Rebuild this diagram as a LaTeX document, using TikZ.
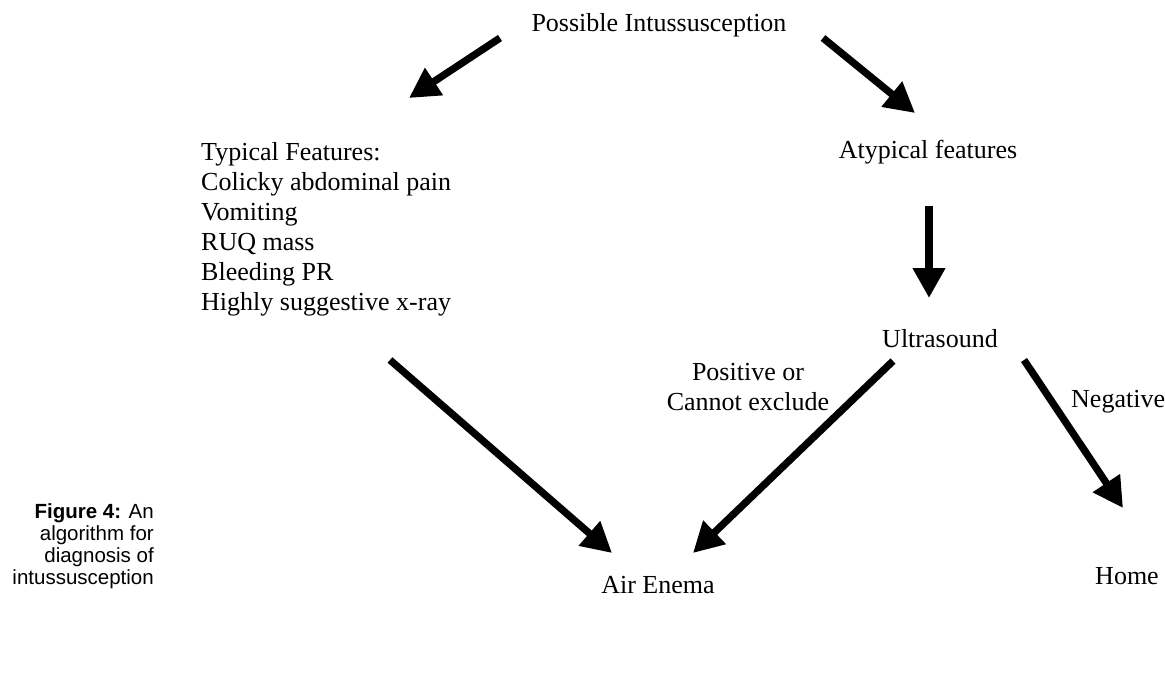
\documentclass[tikz,border=0pt]{standalone}
\usepackage{fontspec}
\setmainfont{Liberation Serif}
\newfontfamily\capsans{Liberation Sans}
\usetikzlibrary{arrows.meta}

\begin{document}
\begin{tikzpicture}[x=1pt, y=-1pt,
    steptext/.style={inner sep=0pt, font=\fontsize{26}{30}\selectfont},
    flowarrow/.style={line width=7.3pt, -{Triangle[length=30pt, width=31pt]}}]
  \useasboundingbox (0,0) rectangle (1165,690);

  % texts
  \node[steptext, anchor=base] (possible) at (659,32) {Possible Intussusception};
  \node[steptext, anchor=north west, align=left] (typical) at (201,142) {
    Typical Features:\\
    Colicky abdominal pain\\
    Vomiting\\
    RUQ mass\\
    Bleeding PR\\
    Highly suggestive x-ray};
  \node[steptext, anchor=base] (atypical) at (928,159) {Atypical features};
  \node[steptext, anchor=base] (ultrasound) at (940,347) {Ultrasound};
  \node[steptext, anchor=north, align=center] (positive) at (748,363) {Positive or\\Cannot exclude};
  \node[steptext, anchor=base west] (negative) at (1071,407) {Negative};
  \node[steptext, anchor=base] (airenema) at (658,593) {Air Enema};
  \node[steptext, anchor=base] (home) at (1127,584) {Home};
  \node[inner sep=0pt, anchor=north east, align=right,
        font=\capsans\fontsize{20.5}{22}\selectfont] (figcap) at (154,503) {
    \textbf{Figure 4:} An\\
    algorithm for\\
    diagnosis of\\
    intussusception};

  % arrow ends
  \coordinate (toTypical0) at (500,38);
  \coordinate (toTypical1) at (409,98);
  \coordinate (toAtypical0) at (823,38);
  \coordinate (toAtypical1) at (915,113);
  \coordinate (toUltra0) at (929,206);
  \coordinate (toUltra1) at (929,298);
  \coordinate (typEnema0) at (390,360);
  \coordinate (typEnema1) at (612,553);
  \coordinate (usEnema0) at (893,361);
  \coordinate (usEnema1) at (693,553);
  \coordinate (usHome0) at (1024,360);
  \coordinate (usHome1) at (1123,508);

  % arrows
  \draw[flowarrow] (toTypical0) -- (toTypical1);
  \draw[flowarrow] (toAtypical0) -- (toAtypical1);
  \draw[flowarrow] (toUltra0) -- (toUltra1);
  \draw[flowarrow] (typEnema0) -- (typEnema1);
  \draw[flowarrow] (usEnema0) -- (usEnema1);
  \draw[flowarrow] (usHome0) -- (usHome1);
\end{tikzpicture}
\end{document}
